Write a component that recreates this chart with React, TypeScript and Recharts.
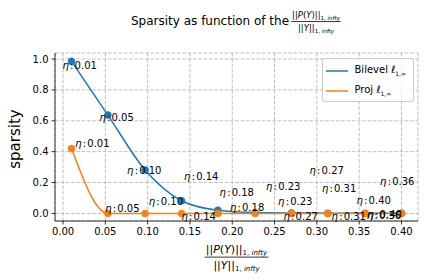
import React from 'react'
import { LineChart, Line, XAxis, YAxis, CartesianGrid, Legend, LabelList } from 'recharts'

const BLUE = '#1f77b4'
const ORANGE = '#ff7f0e'
const FONT = 'DejaVu Sans, sans-serif'

// ratio ||P(Y)|| / ||Y|| for each eta
const ratio = [0.01, 0.053, 0.097, 0.14, 0.183, 0.227, 0.27, 0.313, 0.357, 0.4]
const etaLabels = ['0.01', '0.05', '0.10', '0.14', '0.18', '0.23', '0.27', '0.31', '0.36', '0.40']
const bilevel = [0.985, 0.637, 0.281, 0.082, 0.021, 0.006, 0.003, 0.002, 0.001, 0.001]
const proj = [0.42, 0, 0, 0, 0, 0, 0, 0, 0, 0]

const X_TICKS = [0, 0.05, 0.1, 0.15, 0.2, 0.25, 0.3, 0.35, 0.4]
const Y_TICKS = [0, 0.2, 0.4, 0.6, 0.8, 1.0]
const X_DOMAIN = [-0.0095, 0.4195]
const Y_DOMAIN = [-0.049, 1.039]

// annotation offsets (px) from each marker: [left edge, vertical centre]
const bilevelLabelOffsets = [
  [-9, 4], [-8.5, 2.5], [-18, 0], [2.6, -24], [1.7, -18],
  [11, -26], [18, -43], [-6, -25], [15, -32], [-45, -13],
]
const projLabelOffsets = [
  [3.7, -5], [-2.7, -5.5], [3.6, -12], [0, 3], [12, -6],
  [23, -12], [-8, 3], [3.7, 3], [1.7, 2], [-34, 1],
]

const data = ratio.map((r, i) => ({
  ratio: r,
  bilevel: bilevel[i],
  proj: proj[i],
  eta: etaLabels[i],
}))

const makeEtaLabel = (offsets: number[][]) => (props: any) => {
  const x = props.x ?? props.viewBox?.x
  const y = props.y ?? props.viewBox?.y
  const [dx, dy] = offsets[props.index] || [0, 0]
  return (
    <text x={x + dx} y={y + dy + 3.6} fontSize={10} fill="#000" fontFamily={FONT}>
      <tspan fontStyle="italic">η</tspan>
      <tspan dx={1.2}>:</tspan>
      <tspan dx={1.2}>{props.value}</tspan>
    </text>
  )
}

const Fraction = ({ cx, top, size, sub }: { cx: number; top: number; size: number; sub: number }) => {
  const barY = top + size * 0.42
  const half = size * 2.9
  return (
    <g fontFamily={FONT} fill="#000">
      <text x={cx} y={top} fontSize={size} textAnchor="middle">
        ||<tspan fontStyle="italic">P</tspan>(<tspan fontStyle="italic">Y</tspan>)||
        <tspan fontSize={sub} dy={size * 0.2}>1, </tspan>
        <tspan fontSize={sub} fontStyle="italic">infty</tspan>
      </text>
      <line x1={cx - half} x2={cx + half} y1={barY} y2={barY} stroke="#000" strokeWidth={0.8} />
      <text x={cx} y={barY + size * 1.1} fontSize={size} textAnchor="middle">
        ||<tspan fontStyle="italic">Y</tspan>||
        <tspan fontSize={sub} dy={size * 0.2}>1, </tspan>
        <tspan fontSize={sub} fontStyle="italic">infty</tspan>
      </text>
    </g>
  )
}

const renderLegend = (props: any) => (
  <div
    style={{
      border: '1px solid #cccccc',
      borderRadius: 3,
      background: 'rgba(255,255,255,0.8)',
      height: 44,
      boxSizing: 'border-box',
      fontFamily: FONT,
      fontSize: 10,
      padding: '2px 0 0 3px',
    }}
  >
    {(props.payload || []).map((entry: any) => (
      <div key={entry.value} style={{ display: 'flex', alignItems: 'center', height: 20 }}>
        <svg width={22} height={4} style={{ marginRight: 7 }}>
          <line x1={0} x2={22} y1={2} y2={2} stroke={entry.color} strokeWidth={1.5} />
        </svg>
        <span>
          {entry.value} <i>ℓ</i>
          <sub style={{ fontSize: 6 }}>1,∞</sub>
        </span>
      </div>
    ))}
  </div>
)

export default function App() {
  return (
    <div style={{ position: 'absolute', left: 0, top: 0, width: 424, height: 280, background: '#fff' }}>
      <svg width={424} height={40} style={{ position: 'absolute', left: 0, top: 0 }}>
        <text x={131} y={24.5} fontSize={12} fontFamily={FONT} fill="#000">
          Sparsity as function of the
        </text>
        <Fraction cx={316} top={18} size={8.5} sub={5.5} />
      </svg>
      <LineChart
        width={424}
        height={280}
        data={data}
        margin={{ top: 53, right: 6, bottom: 0, left: 20 }}
        style={{ fontFamily: FONT }}
      >
        <CartesianGrid stroke="#b0b0b0" strokeWidth={0.8} strokeDasharray="3.7 1.6" />
        <XAxis
          dataKey="ratio"
          type="number"
          domain={X_DOMAIN}
          ticks={X_TICKS}
          allowDataOverflow
          height={59}
          tickSize={3.5}
          tickMargin={3}
          tickFormatter={(v: number) => v.toFixed(2)}
          tick={{ fill: '#000', fontSize: 10 }}
          tickLine={{ stroke: '#000', strokeWidth: 0.8 }}
          axisLine={{ stroke: '#000', strokeWidth: 0.8 }}
          label={{
            content: (p: any) => <Fraction cx={p.viewBox.x + p.viewBox.width / 2} top={252.5} size={11} sub={7} />,
          }}
        />
        <XAxis
          xAxisId="top"
          orientation="top"
          type="number"
          domain={X_DOMAIN}
          height={0}
          tick={false}
          tickLine={false}
          axisLine={{ stroke: '#000', strokeWidth: 0.8 }}
        />
        <YAxis
          type="number"
          domain={Y_DOMAIN}
          ticks={Y_TICKS}
          allowDataOverflow
          width={35}
          tickSize={3.5}
          tickMargin={3}
          tickFormatter={(v: number) => v.toFixed(1)}
          tick={{ fill: '#000', fontSize: 10 }}
          tickLine={{ stroke: '#000', strokeWidth: 0.8 }}
          axisLine={{ stroke: '#000', strokeWidth: 0.8 }}
          label={{
            content: (p: any) => {
              const cx = p.viewBox.x - 5
              const cy = p.viewBox.y + p.viewBox.height / 2 + 2
              return (
                <text
                  x={cx}
                  y={cy}
                  transform={`rotate(-90, ${cx}, ${cy})`}
                  textAnchor="middle"
                  dominantBaseline="central"
                  fontSize={15}
                  fontFamily={FONT}
                  fill="#000"
                >
                  sparsity
                </text>
              )
            },
          }}
        />
        <YAxis
          yAxisId="right"
          orientation="right"
          domain={[0, 1]}
          width={0}
          tick={false}
          tickLine={false}
          axisLine={{ stroke: '#000', strokeWidth: 0.8 }}
        />
        <Legend
          layout="horizontal"
          align="center"
          verticalAlign="middle"
          width={92}
          wrapperStyle={{ left: 321.5, top: 57.5, width: 92 }}
          content={renderLegend}
        />
        <Line
          name="Bilevel"
          type="monotone"
          dataKey="bilevel"
          stroke={BLUE}
          strokeWidth={1.5}
          dot={{ r: 3.5, fill: BLUE, stroke: BLUE, strokeWidth: 0.5 }}
          activeDot={false}
          isAnimationActive={false}
        >
          <LabelList dataKey="eta" content={makeEtaLabel(bilevelLabelOffsets)} />
        </Line>
        <Line
          name="Proj"
          type="monotone"
          dataKey="proj"
          stroke={ORANGE}
          strokeWidth={1.5}
          dot={{ r: 3.5, fill: ORANGE, stroke: ORANGE, strokeWidth: 0.5 }}
          activeDot={false}
          isAnimationActive={false}
        >
          <LabelList dataKey="eta" content={makeEtaLabel(projLabelOffsets)} />
        </Line>
      </LineChart>
    </div>
  )
}
